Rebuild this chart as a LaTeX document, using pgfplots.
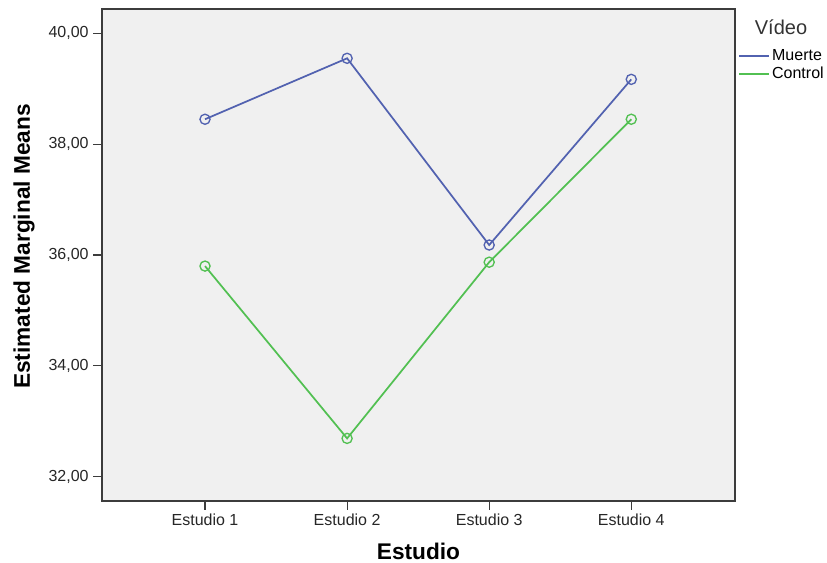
\documentclass[border=0pt]{standalone}
\usepackage{fontspec}
\setmainfont{Liberation Sans}
\usepackage{pgfplots}
\pgfplotsset{compat=1.18}

\definecolor{bgfill}{RGB}{240,240,240}
\definecolor{frame}{RGB}{60,60,60}
\definecolor{muerte}{RGB}{82,98,176}
\definecolor{control}{RGB}{82,192,82}

\begin{document}
\begin{tikzpicture}
\begin{axis}[
  name=ax,
  scale only axis,
  width=474.75pt, height=369pt,
  xmin=0.275, xmax=4.73,
  ymin=31.56, ymax=40.44,
  clip=false,
  axis background/.style={fill=bgfill},
  axis line style={frame, line width=0.8pt},
  xtick={1,2,3,4},
  xticklabels={Estudio 1, Estudio 2, Estudio 3, Estudio 4},
  ytick={32,34,36,38,40},
  tick align=outside,
  major tick length=6.5pt,
  tick style={frame, line width=0.8pt},
  xtick pos=bottom, ytick pos=left,
  ticklabel style={font=\fontsize{12}{14}\selectfont, text=black!85},
  /pgf/number format/.cd, fixed, fixed zerofill, precision=2, use comma, assume math mode=true,
  /pgfplots/.cd,
  xlabel={\textbf{Estudio}},
  ylabel={\textbf{Estimated Marginal Means}},
  xlabel style={at={(axis description cs:0.5,0)}, anchor=center, yshift=-37.5pt, font=\fontsize{17}{20}\selectfont},
  ylabel style={at={(axis description cs:0,0.5)}, anchor=center, yshift=58.5pt, xshift=6.4pt, font=\fontsize{17}{20}\selectfont},
  legend style={at={(rel axis cs:1,1)}, anchor=north west, xshift=2.25pt, yshift=-29pt,
    draw=none, fill=none, inner sep=0pt, row sep=0pt,
    font=\fontsize{12}{14}\selectfont,
    nodes={inner sep=1.5pt, minimum height=12pt}},
  legend cell align=left,
  legend image code/.code={\draw[#1, mark=none, line width=1.4pt] (0pt,0pt) -- (22.5pt,0pt);},
]
\addplot[color=muerte, line width=1.3pt, mark=o, mark size=3.8pt, mark options={line width=1pt}] coordinates {
  (1, 38.45)
  (2, 39.55)
  (3, 36.18)
  (4, 39.17)
};
\addlegendentry{Muerte}
\addplot[color=control, line width=1.3pt, mark=o, mark size=3.8pt, mark options={line width=1pt}] coordinates {
  (1, 35.80)
  (2, 32.69)
  (3, 35.87)
  (4, 38.45)
};
\addlegendentry{Control}
\end{axis}
\node[font=\fontsize{15}{18}\selectfont, text=black!80] at ([shift={(34.5pt,-13.5pt)}]ax.north east) {Vídeo};
\pgfresetboundingbox
\path ([shift={(-76.5pt,-46.5pt)}]ax.south west) rectangle ++(620.25pt,422.25pt);
\end{tikzpicture}
\end{document}
